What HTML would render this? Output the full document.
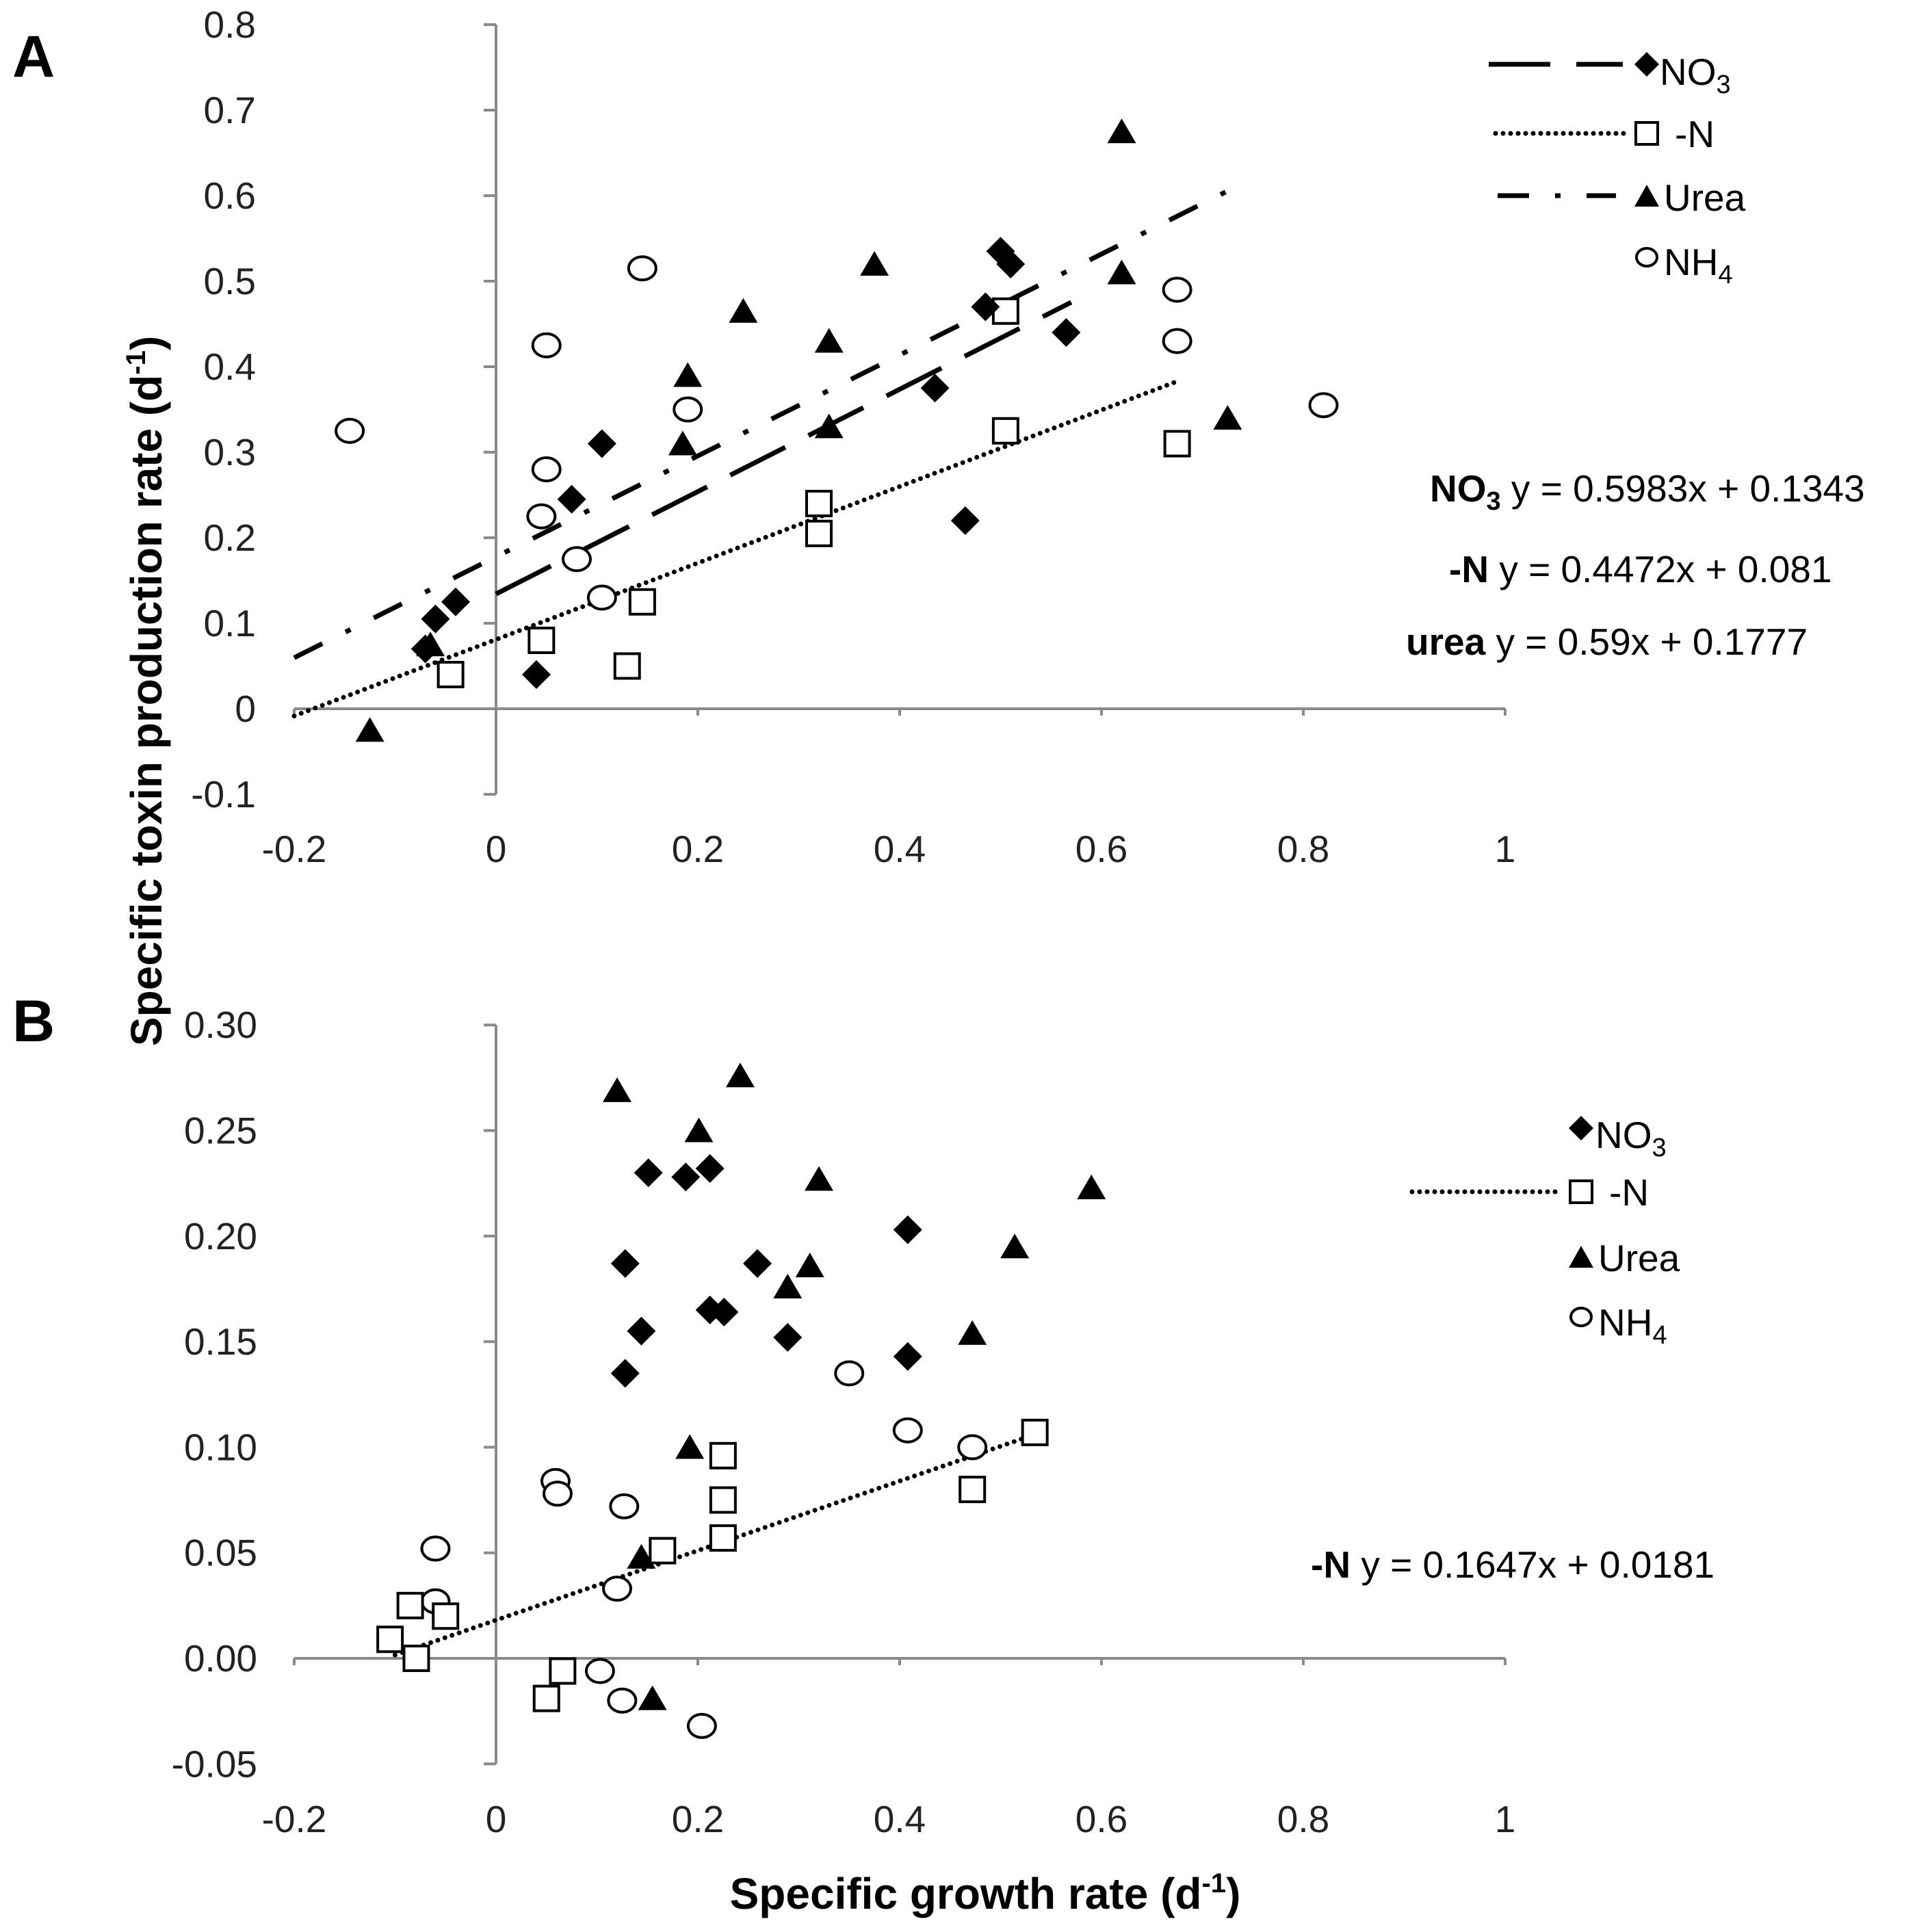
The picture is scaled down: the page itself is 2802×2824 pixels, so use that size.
<!DOCTYPE html>
<html><head><meta charset="utf-8"><style>
html,body{margin:0;padding:0;background:#fff}
svg{display:block}
text{font-family:"Liberation Sans",Arial,sans-serif}
</style></head><body>
<svg id="fig" width="2802" height="2824" viewBox="0 0 2802 2824" xmlns="http://www.w3.org/2000/svg">
<text x="18" y="112" font-size="86" font-weight="bold">A</text>
<text x="18" y="1522" font-size="86" font-weight="bold">B</text>
<text transform="translate(236,1010) rotate(-90)" text-anchor="middle" font-size="64" font-weight="bold">Specific toxin production rate (d<tspan font-size="40" dy="-24">-1</tspan><tspan dy="24">)</tspan></text>
<text x="1440" y="2790" text-anchor="middle" font-size="64" font-weight="bold">Specific growth rate (d<tspan font-size="40" dy="-24">-1</tspan><tspan dy="24">)</tspan></text>
<g id="pa"></g>
<g id="pb"></g>
<g>
  <line x1="2176" y1="94" x2="2372" y2="94" stroke="#000" stroke-width="7" stroke-dasharray="90 38"/>
  <path d="M2407 76 L2425 94 L2407 112 L2389 94Z" fill="#000"/>
  <text x="2426" y="124" font-size="55">NO<tspan font-size="38" dy="12">3</tspan></text>
  <line x1="2186" y1="195" x2="2378" y2="195" stroke="#000" stroke-width="7" stroke-dasharray="0 11" stroke-linecap="round"/>
  <rect x="2391" y="179" width="32" height="32" fill="#fff" stroke="#000" stroke-width="4"/>
  <text x="2448" y="215" font-size="55">-N</text>
  <line x1="2189" y1="286" x2="2362" y2="286" stroke="#000" stroke-width="7" stroke-dasharray="46 38 8 38"/>
  <path d="M2407 270 L2425 302 L2389 302Z" fill="#000"/>
  <text x="2432" y="308" font-size="55">Urea</text>
  <ellipse cx="2407" cy="376" rx="15" ry="13" fill="#fff" stroke="#000" stroke-width="4"/>
  <text x="2432" y="402" font-size="55">NH<tspan font-size="38" dy="12">4</tspan></text>
</g>
<g font-size="55">
  <text x="2090" y="733"><tspan font-weight="bold">NO<tspan font-size="38" dy="12">3</tspan></tspan><tspan dy="-12"> y = 0.5983x + 0.1343</tspan></text>
  <text x="2118" y="851"><tspan font-weight="bold">-N</tspan> y = 0.4472x + 0.081</text>
  <text x="2055" y="957"><tspan font-weight="bold">urea</tspan> y = 0.59x + 0.1777</text>
</g>
<g>
  <path d="M2311 1631 L2329 1649 L2311 1667 L2293 1649Z" fill="#000"/>
  <text x="2332" y="1678" font-size="55">NO<tspan font-size="38" dy="12">3</tspan></text>
  <line x1="2064" y1="1742" x2="2284" y2="1742" stroke="#000" stroke-width="7" stroke-dasharray="0 11" stroke-linecap="round"/>
  <rect x="2295" y="1726" width="32" height="32" fill="#fff" stroke="#000" stroke-width="4"/>
  <text x="2352" y="1762" font-size="55">-N</text>
  <path d="M2311 1821 L2329 1853 L2293 1853Z" fill="#000"/>
  <text x="2336" y="1858" font-size="55">Urea</text>
  <ellipse cx="2311" cy="1925" rx="15" ry="13" fill="#fff" stroke="#000" stroke-width="4"/>
  <text x="2336" y="1952" font-size="55">NH<tspan font-size="38" dy="12">4</tspan></text>
</g>
<text x="1916" y="2306" font-size="55"><tspan font-weight="bold">-N</tspan> y = 0.1647x + 0.0181</text>
</svg>
<script>
// Panel A data
const aNO3x=[-0.07,-0.06,-0.04,0.04,0.075,0.105,0.435,0.465,0.485,0.5,0.51,0.565];
const aNO3y=[0.07,0.105,0.125,0.04,0.245,0.31,0.375,0.22,0.47,0.535,0.52,0.44];
const aNx=[-0.045,0.045,0.13,0.145,0.32,0.32,0.505,0.505,0.675];
const aNy=[0.04,0.08,0.05,0.125,0.24,0.205,0.465,0.325,0.31];
const aUx=[-0.125,-0.065,0.19,0.185,0.245,0.33,0.33,0.375,0.62,0.62,0.725];
const aUy=[-0.025,0.075,0.39,0.31,0.465,0.43,0.33,0.52,0.675,0.51,0.34];
const aHx=[-0.145,0.05,0.05,0.045,0.08,0.105,0.145,0.19,0.675,0.675,0.82];
const aHy=[0.325,0.425,0.28,0.225,0.175,0.13,0.515,0.35,0.49,0.43,0.355];
const aFitSlope=[0.5983,0.4472,0.59];
const aFitIntercept=[0.1343,0.081,0.1777];
const aFitXmin=[0,-0.2,-0.2];
const aFitXmax=[0.57,0.675,0.73];
// Panel B data
const bNO3x=[0.128,0.144,0.128,0.151,0.188,0.212,0.212,0.226,0.259,0.289,0.408,0.408];
const bNO3y=[0.187,0.155,0.135,0.230,0.228,0.232,0.165,0.164,0.187,0.152,0.203,0.143];
const bNx=[-0.105,-0.085,-0.05,-0.079,0.05,0.066,0.165,0.225,0.225,0.225,0.472,0.534];
const bNy=[0.009,0.025,0.02,0,-0.019,-0.006,0.051,0.096,0.075,0.057,0.08,0.107];
const bUx=[0.12,0.201,0.242,0.32,0.311,0.289,0.192,0.59,0.514,0.472,0.144,0.155];
const bUy=[0.269,0.250,0.276,0.227,0.186,0.176,0.100,0.223,0.195,0.154,0.048,-0.019];
const bHx=[-0.06,-0.06,0.059,0.061,0.127,0.12,0.103,0.125,0.204,0.35,0.408,0.472];
const bHy=[0.052,0.027,0.084,0.078,0.072,0.033,-0.006,-0.02,-0.032,0.135,0.108,0.100];
const bFitSlope=[0.1647];
const bFitIntercept=[0.0181];
const bFitXmin=[-0.1];
const bFitXmax=[0.53];
const xTicks=[-0.2,0,0.2,0.4,0.6,0.8,1];
const xTickLabels=["-0.2","0","0.2","0.4","0.6","0.8","1"];
const aYTicks=[-0.1,0,0.1,0.2,0.3,0.4,0.5,0.6,0.7,0.8];
const aYTickLabels=["-0.1","0","0.1","0.2","0.3","0.4","0.5","0.6","0.7","0.8"];
const bYTicks=[-0.05,0,0.05,0.10,0.15,0.20,0.25,0.30];
const bYTickLabels=["-0.05","0.00","0.05","0.10","0.15","0.20","0.25","0.30"];

const NS="http://www.w3.org/2000/svg";
function mk(tag,attrs,parent){const e=document.createElementNS(NS,tag);for(const k in attrs)e.setAttribute(k,attrs[k]);parent.appendChild(e);return e;}
const sx=v=>725+(v-0)*1475;
function drawPanel(g,y0,perUnit,yTicks,yLabels,labelRight,xLabelY){
  const sy=v=>y0-v*perUnit;
  const ymin=yTicks[0],ymax=yTicks[yTicks.length-1];
  const ya=mk('line',{x1:sx(0),y1:sy(ymax),x2:sx(0),y2:sy(ymin),stroke:'#8a8a8a','stroke-width':4},g);
  
  
  const xa=mk('line',{x1:sx(-0.2),y1:sy(0),x2:sx(1),y2:sy(0),stroke:'#8a8a8a','stroke-width':4},g);
  
  
  yTicks.forEach((t,i)=>{
    mk('line',{x1:sx(0)-18,y1:sy(t),x2:sx(0),y2:sy(t),stroke:'#8a8a8a','stroke-width':4},g);
    const tx=mk('text',{x:labelRight,y:sy(t)+19,'text-anchor':'end','font-size':55,fill:'#222'},g);
    tx.textContent=yLabels[i];
    
    
  });
  xTicks.forEach((t,i)=>{
    mk('line',{x1:sx(t),y1:sy(0),x2:sx(t),y2:sy(0)+10,stroke:'#8a8a8a','stroke-width':4},g);
    const tx=mk('text',{x:sx(t),y:xLabelY,'text-anchor':'middle','font-size':55,fill:'#222'},g);
    tx.textContent=xTickLabels[i];
    
    
  });
  return sy;
}
function fits(g,sy,sl,ic,xa,xb,dashes,names){
  sl.forEach((s,i)=>{
    const l=mk('line',{x1:sx(xa[i]),y1:sy(s*xa[i]+ic[i]),x2:sx(xb[i]),y2:sy(s*xb[i]+ic[i]),stroke:'#000','stroke-width':7,'stroke-dasharray':dashes[i],'stroke-linecap':dashes[i].startsWith('0')?'round':'butt'},g);
    
    
  });
}
function pts(g,sy,xs,ys,kind){
  xs.forEach((xv,i)=>{
    const cx=sx(xv),cy=sy(ys[i]);let e;
    if(kind==='diamond')e=mk('path',{d:`M${cx} ${cy-21}L${cx+21} ${cy}L${cx} ${cy+21}L${cx-21} ${cy}Z`,fill:'#000'},g);
    else if(kind==='square')e=mk('rect',{x:cx-18,y:cy-18,width:36,height:36,fill:'#fff',stroke:'#000','stroke-width':4},g);
    else if(kind==='triangle')e=mk('path',{d:`M${cx} ${cy-19}L${cx+21} ${cy+17}L${cx-21} ${cy+17}Z`,fill:'#000'},g);
    else e=mk('ellipse',{cx:cx,cy:cy,rx:20,ry:17,fill:'#fff',stroke:'#000','stroke-width':4},g);
    
    
  });
}
const ga=document.getElementById('pa');
const syA=drawPanel(ga,1036,1250,aYTicks,aYTickLabels,374,1260);
fits(ga,syA,aFitSlope,aFitIntercept,aFitXmin,aFitXmax,['90 38','0 11','46 38 8 38'],['fit-no3','fit-minus-n','fit-urea']);
pts(ga,syA,aHx,aHy,'circle');pts(ga,syA,aNx,aNy,'square');pts(ga,syA,aUx,aUy,'triangle');pts(ga,syA,aNO3x,aNO3y,'diamond');
const gb=document.getElementById('pb');
const syB=drawPanel(gb,2424,3086,bYTicks,bYTickLabels,376,2678);
fits(gb,syB,bFitSlope,bFitIntercept,bFitXmin,bFitXmax,['0 11'],['fit-b-minus-n']);
pts(gb,syB,bHx,bHy,'circle');pts(gb,syB,bNx,bNy,'square');pts(gb,syB,bUx,bUy,'triangle');pts(gb,syB,bNO3x,bNO3y,'diamond');
</script>
</body></html>
